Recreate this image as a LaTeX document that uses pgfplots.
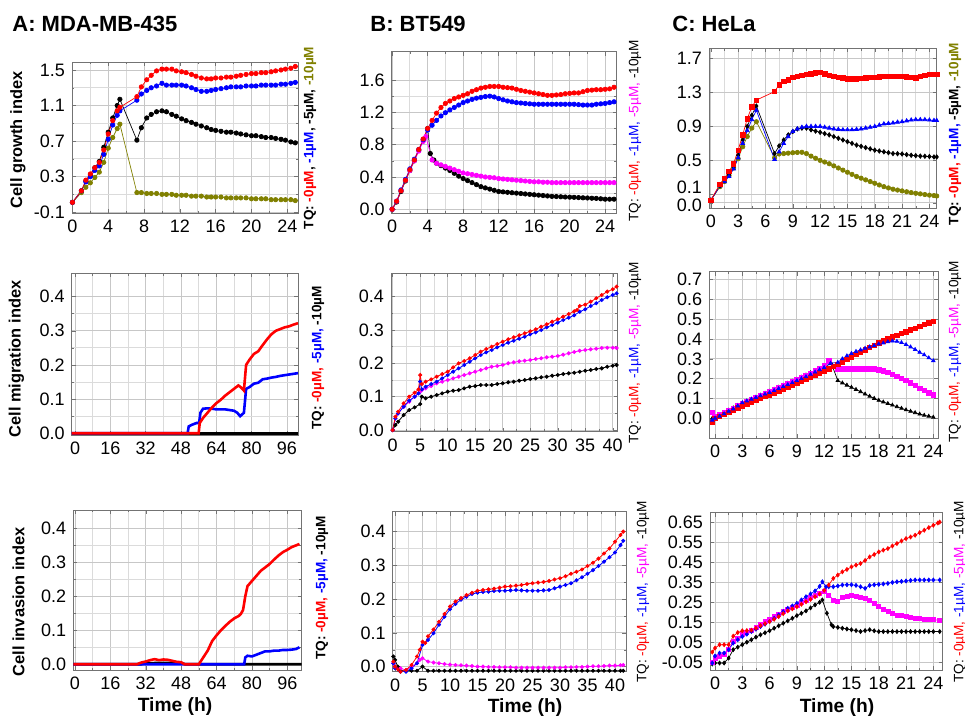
\documentclass[border=0pt]{standalone}
\usepackage{fontspec}
\setmainfont{Liberation Sans}
\usepackage{pgfplots}
\pgfplotsset{compat=1.18}
\definecolor{olv}{RGB}{128,128,0}
\definecolor{mag}{RGB}{255,0,255}
\pgfplotsset{
  panel/.style={
    scale only axis, anchor=south west,
    axis line style={black!55}, tick style={black!55},
    major tick length=2pt, minor tick length=1.2pt,
    tick align=inside,
    grid=both, major grid style={black!22}, minor grid style={black!14},
    minor x tick num=1, minor y tick num=1,
    tick label style={font=\fontsize{9}{10}\selectfont},
    /pgf/number format/assume math mode=true,
    yticklabel style={/pgf/number format/fixed, /pgf/number format/fixed zerofill, /pgf/number format/precision=1},
  },
  ser/.style 2 args={draw=#1, line width=0.35pt, mark=#2, mark size=1.1pt,
    mark options={solid, fill=#1, draw=#1}},
  sm/.style 2 args={draw=#1, line width=0.4pt, mark=#2, mark size=0.8pt,
    mark options={solid, fill=#1, draw=#1}},
  dense/.style={draw=#1, line width=1.3pt, no marks},
}
\newcommand{\rl}[3]{\node[rotate=90, inner sep=0pt, font=#1\fontsize{6.8}{8}\selectfont] at (#2) {#3};}
\begin{document}
\begin{tikzpicture}
\useasboundingbox (0,0) rectangle (482.5pt,-359.5pt);

% ---------- A1 ----------
\begin{axis}[panel, at={(36pt,-106.5pt)}, width=113pt, height=75.5pt,
  xmin=-0.05, xmax=25.2, ymin=-0.11, ymax=1.59,
  xtick={0,4,...,24}, ytick={-0.1,0.3,0.7,1.1,1.5}]
\addplot[ser={olv}{*}] coordinates {(0,0.01)(1,0.12)(1.5,0.18)(2,0.23)(2.5,0.29)(3,0.35)(3.5,0.46)(4,0.62)(4.5,0.74)(5,0.84)(5.3,0.89)
(7.2,0.12)(7.7,0.12)(8.3,0.11)(8.8,0.11)(9.4,0.11)(10,0.10)(10.5,0.10)(11.1,0.10)(11.6,0.09)(12.2,0.09)(12.7,0.09)(13.3,0.08)(13.8,0.08)(14.4,0.08)(15,0.07)(15.5,0.07)(16,0.07)(16.6,0.07)(17.2,0.06)(17.7,0.06)(18.3,0.06)(18.8,0.06)(19.4,0.06)(20,0.05)(20.5,0.05)(21.1,0.05)(21.6,0.05)(22.2,0.04)(22.7,0.04)(23.3,0.04)(23.8,0.04)(24.4,0.04)(24.9,0.03)};
\addplot[ser={black}{*}] coordinates {(0,0.01)(1,0.14)(1.5,0.25)(2,0.32)(2.5,0.40)(3,0.47)(3.5,0.63)(4,0.80)(4.5,0.96)(5,1.10)(5.3,1.17)
(7.2,0.71)(7.7,0.85)(8.3,0.96)(8.8,1.00)(9.4,1.03)(10,1.04)(10.5,1.03)(11.1,1.00)(11.6,0.98)(12.2,0.95)(12.7,0.93)(13.3,0.91)(13.8,0.89)(14.4,0.87)(15,0.85)(15.5,0.83)(16,0.82)(16.6,0.81)(17.2,0.80)(17.7,0.80)(18.3,0.79)(18.8,0.78)(19.4,0.77)(20,0.76)(20.5,0.76)(21.1,0.75)(21.6,0.74)(22.2,0.74)(22.7,0.73)(23.3,0.72)(23.8,0.71)(24.4,0.69)(24.9,0.68)};
\addplot[ser={blue}{*}] coordinates {(0,0.01)(1,0.14)(1.5,0.24)(2,0.30)(2.5,0.37)(3,0.42)(3.5,0.55)(4,0.72)(4.5,0.88)(5,0.99)(5.3,1.04)
(7.2,1.16)(7.7,1.23)(8.3,1.27)(8.8,1.30)(9.4,1.32)(10,1.35)(10.5,1.33)(11.1,1.33)(11.6,1.33)(12.2,1.33)(12.7,1.32)(13.3,1.30)(13.8,1.28)(14.4,1.26)(15,1.26)(15.5,1.27)(16,1.28)(16.6,1.29)(17.2,1.30)(17.7,1.31)(18.3,1.31)(18.8,1.31)(19.4,1.32)(20,1.32)(20.5,1.32)(21.1,1.33)(21.6,1.33)(22.2,1.33)(22.7,1.33)(23.3,1.34)(23.8,1.34)(24.4,1.35)(24.9,1.36)};
\addplot[ser={red}{*}] coordinates {(0,0.01)(1,0.14)(1.5,0.26)(2,0.33)(2.5,0.40)(3,0.46)(3.5,0.60)(4,0.78)(4.5,0.93)(5,1.04)(5.3,1.08)
(7.2,1.20)(7.7,1.31)(8.3,1.39)(8.8,1.44)(9.4,1.49)(10,1.51)(10.5,1.51)(11.1,1.51)(11.6,1.49)(12.2,1.48)(12.7,1.47)(13.3,1.45)(13.8,1.43)(14.4,1.41)(15,1.40)(15.5,1.40)(16,1.41)(16.6,1.41)(17.2,1.42)(17.7,1.42)(18.3,1.43)(18.8,1.44)(19.4,1.45)(20,1.46)(20.5,1.46)(21.1,1.47)(21.6,1.47)(22.2,1.48)(22.7,1.49)(23.3,1.50)(23.8,1.51)(24.4,1.52)(24.9,1.54)};
\end{axis}

% ---------- B1 ----------
\begin{axis}[panel, at={(195.85pt,-106.5pt)}, width=112.5pt, height=80.65pt,
  xmin=-0.05, xmax=25.3, ymin=-0.046, ymax=1.95,
  xtick={0,4,...,24}, ytick={0,0.4,0.8,1.2,1.6}]
\addplot[ser={black}{*}] coordinates {(0,0)(0.5,0.09)(1,0.22)(1.5,0.35)(2,0.48)(2.5,0.60)(3,0.73)(3.5,0.86)(4,1.00)(4.3,0.69)(4.7,0.61)(5,0.57)(5.5,0.54)(6,0.51)(6.5,0.48)(7,0.445)(7.5,0.41)(8,0.38)(8.5,0.355)(9,0.33)(9.5,0.305)(10,0.28)(10.5,0.265)(11,0.25)(11.5,0.235)(12,0.22)(12.5,0.215)(13,0.21)(13.5,0.205)(14,0.20)(14.5,0.195)(15,0.19)(15.5,0.185)(16,0.18)(16.5,0.175)(17,0.17)(17.5,0.165)(18,0.16)(18.5,0.158)(19,0.155)(19.5,0.152)(20,0.15)(20.5,0.148)(21,0.145)(21.5,0.142)(22,0.14)(22.5,0.137)(23,0.135)(23.5,0.13)(24,0.125)(24.5,0.125)(25,0.125)};
\addplot[ser={mag}{*}] coordinates {(0,0)(0.5,0.10)(1,0.23)(1.5,0.36)(2,0.48)(2.5,0.60)(3,0.72)(3.5,0.84)(3.8,0.90)(4.5,0.61)(5,0.57)(5.5,0.55)(6,0.53)(6.5,0.51)(7,0.49)(7.5,0.47)(8,0.45)(8.5,0.44)(9,0.43)(9.5,0.42)(10,0.41)(10.5,0.40)(11,0.395)(11.5,0.39)(12,0.38)(12.5,0.375)(13,0.37)(13.5,0.365)(14,0.36)(14.5,0.355)(15,0.35)(15.5,0.345)(16,0.34)(16.5,0.34)(17,0.335)(17.5,0.335)(18,0.33)(18.5,0.33)(19,0.33)(19.5,0.33)(20,0.33)(20.5,0.33)(21,0.33)(21.5,0.33)(22,0.33)(22.5,0.33)(23,0.33)(23.5,0.33)(24,0.33)(24.5,0.33)(25,0.33)};
\addplot[ser={blue}{*}] coordinates {(0,0)(0.5,0.10)(1,0.24)(1.5,0.37)(2,0.50)(2.5,0.62)(3,0.74)(3.5,0.86)(4,0.98)(4.5,1.04)(5,1.10)(5.5,1.155)(6,1.195)(6.5,1.23)(7,1.26)(7.5,1.29)(8,1.32)(8.5,1.34)(9,1.36)(9.5,1.375)(10,1.385)(10.5,1.395)(11,1.40)(11.5,1.39)(12,1.37)(12.5,1.355)(13,1.34)(13.5,1.33)(14,1.32)(14.5,1.315)(15,1.31)(15.5,1.305)(16,1.30)(16.5,1.30)(17,1.30)(17.5,1.30)(18,1.30)(18.5,1.30)(19,1.30)(19.5,1.30)(20,1.30)(20.5,1.30)(21,1.295)(21.5,1.29)(22,1.29)(22.5,1.29)(23,1.30)(23.5,1.305)(24,1.31)(24.5,1.32)(25,1.33)};
\addplot[ser={red}{*}] coordinates {(0,0)(0.5,0.10)(1,0.23)(1.5,0.36)(2,0.49)(2.5,0.61)(3,0.74)(3.5,0.87)(4,1.00)(4.5,1.10)(5,1.19)(5.5,1.26)(6,1.31)(6.5,1.34)(7,1.37)(7.5,1.39)(8,1.41)(8.5,1.43)(9,1.46)(9.5,1.48)(10,1.50)(10.5,1.51)(11,1.52)(11.5,1.52)(12,1.52)(12.5,1.51)(13,1.505)(13.5,1.50)(14,1.485)(14.5,1.47)(15,1.46)(15.5,1.45)(16,1.44)(16.5,1.43)(17,1.42)(17.5,1.41)(18,1.41)(18.5,1.415)(19,1.42)(19.5,1.43)(20,1.435)(20.5,1.44)(21,1.44)(21.5,1.455)(22,1.47)(22.5,1.475)(23,1.48)(23.5,1.48)(24,1.485)(24.5,1.49)(25,1.51)};
\end{axis}

% ---------- C1 ----------
\begin{axis}[panel, at={(354.5pt,-104.15pt)}, width=113.85pt, height=80pt,
  xmin=-0.2, xmax=24.8, ymin=-0.065, ymax=1.82,
  xtick={0,3,...,24}, ytick={0,0.1,0.5,0.9,1.3,1.7},
  yticklabels={\raisebox{-1.2pt}[\height][\depth]{0.0},\raisebox{3.6pt}[\height][\depth]{0.1},0.5,0.9,1.3,1.7}]
\addplot[ser={olv}{*}] coordinates {(0,0.03)(1,0.19)(1.5,0.25)(2,0.32)(2.5,0.41)(3,0.52)(3.5,0.66)(4,0.78)(4.5,0.88)(5,0.955)(7,0.53)(7.5,0.575)(8,0.58)(8.5,0.585)(9,0.59)(9.5,0.593)(10,0.595)(10.5,0.58)(11,0.55)(11.5,0.525)(12,0.50)(12.5,0.48)(13,0.46)(13.5,0.435)(14,0.41)(14.5,0.385)(15,0.36)(15.5,0.335)(16,0.31)(16.5,0.29)(17,0.27)(17.5,0.25)(18,0.23)(18.5,0.21)(19,0.19)(19.5,0.175)(20,0.16)(20.5,0.15)(21,0.14)(21.5,0.13)(22,0.12)(22.5,0.112)(23,0.105)(23.5,0.097)(24,0.09)(24.5,0.085)(24.8,0.08)};
\addplot[ser={black}{diamond*}] coordinates {(0,0.03)(1,0.2)(1.5,0.26)(2,0.33)(2.5,0.42)(3,0.56)(3.5,0.74)(4,0.90)(4.5,1.03)(5,1.14)(7,0.58)(7.5,0.67)(8,0.74)(8.5,0.80)(9,0.84)(9.5,0.87)(10,0.88)(10.5,0.88)(11,0.86)(11.5,0.845)(12,0.83)(12.5,0.815)(13,0.80)(13.5,0.78)(14,0.76)(14.5,0.74)(15,0.72)(15.5,0.70)(16,0.68)(16.5,0.665)(17,0.65)(17.5,0.635)(18,0.62)(18.5,0.61)(19,0.60)(19.5,0.59)(20,0.58)(20.5,0.578)(21,0.575)(21.5,0.567)(22,0.56)(22.5,0.555)(23,0.55)(23.5,0.548)(24,0.545)(24.5,0.54)(24.8,0.54)};
\addplot[ser={blue}{triangle*}] coordinates {(0,0.03)(1,0.2)(1.5,0.25)(2,0.31)(2.5,0.40)(3,0.53)(3.5,0.70)(4,0.85)(4.5,0.98)(5,1.09)(7,0.51)(7.5,0.60)(8,0.70)(8.5,0.78)(9,0.84)(9.5,0.87)(10,0.89)(10.5,0.90)(11,0.90)(11.5,0.90)(12,0.90)(12.5,0.89)(13,0.88)(13.5,0.87)(14,0.865)(14.5,0.86)(15,0.86)(15.5,0.86)(16,0.865)(16.5,0.87)(17,0.88)(17.5,0.89)(18,0.90)(18.5,0.915)(19,0.93)(19.5,0.935)(20,0.94)(20.5,0.95)(21,0.955)(21.5,0.965)(22,0.975)(22.5,0.98)(23,0.98)(23.5,0.98)(24,0.975)(24.5,0.97)(24.8,0.97)};
\addplot[ser={red}{square*}] coordinates {(0,0.03)(1,0.22)(1.5,0.29)(2,0.37)(2.5,0.46)(3,0.62)(3.5,0.80)(4,0.99)(4.5,1.13)(5,1.21)(7,1.31)(7.5,1.39)(8,1.43)(8.5,1.45)(9,1.48)(9.5,1.49)(10,1.50)(10.5,1.51)(11,1.52)(11.5,1.53)(12,1.535)(12.5,1.52)(13,1.50)(13.5,1.49)(14,1.48)(14.5,1.47)(15,1.46)(15.5,1.46)(16,1.46)(16.5,1.465)(17,1.47)(17.5,1.475)(18,1.48)(18.5,1.485)(19,1.49)(19.5,1.49)(20,1.49)(20.5,1.49)(21,1.49)(21.5,1.485)(22,1.48)(22.5,1.47)(23,1.49)(23.5,1.50)(24,1.51)(24.5,1.51)(24.8,1.51)};
\end{axis}

% ---------- A2 ----------
\begin{axis}[panel, at={(35.85pt,-217.5pt)}, width=113.15pt, height=80.85pt,
  xmin=-1.5, xmax=101, ymin=-0.005, ymax=0.468,
  xtick={0,16,32,48,64,80,96}, ytick={0,0.1,0.2,0.3,0.4}]
\addplot[dense=black] coordinates {(-1.5,0)(101,0)};
\addplot[dense=blue] coordinates {(-1.5,0)(51,0)(51.5,0.02)(53,0.025)(55,0.03)(56.2,0.03)(56.8,0.06)(58,0.072)(60,0.073)(62,0.072)(64,0.07)(66,0.07)(68,0.07)(70,0.068)(72,0.066)(73.5,0.06)(74.8,0.05)(76.5,0.06)(77.5,0.13)(79,0.135)(81,0.145)(83,0.148)(85,0.158)(87,0.16)(89,0.163)(91,0.165)(93,0.168)(95,0.17)(97,0.172)(99,0.174)(101,0.176)};
\addplot[dense=red] coordinates {(-1.5,0)(56,0)(56.5,0.03)(58,0.045)(60,0.06)(62,0.075)(64,0.088)(66,0.098)(68,0.11)(70,0.12)(72,0.13)(74,0.14)(75,0.135)(76.5,0.125)(77.5,0.2)(79,0.215)(81,0.232)(83,0.24)(85,0.258)(87,0.275)(89,0.29)(91,0.3)(93,0.305)(95,0.31)(97,0.313)(99,0.318)(101,0.322)};
\end{axis}

% ---------- B2 ----------
\begin{axis}[panel, at={(195.5pt,-215.85pt)}, width=113.35pt, height=79.2pt,
  xmin=-0.3, xmax=40.9, ymin=-0.005, ymax=0.47,
  xtick={0,5,...,40}, ytick={0,0.1,0.2,0.3,0.4}]
\addplot[sm={black}{*}] coordinates {(0,0.0)(0.5,0.015)(1,0.025)(2,0.045)(3,0.06)(4,0.068)(5,0.078)(5.3,0.10)(6,0.095)(7,0.1)(8,0.105)(9,0.11)(10,0.115)(11,0.118)(12,0.12)(13,0.125)(14,0.13)(15,0.132)(16,0.135)(17,0.135)(18,0.135)(19,0.138)(20,0.14)(21,0.143)(22,0.145)(23,0.148)(24,0.15)(25,0.153)(26,0.155)(27,0.158)(28,0.16)(29,0.163)(30,0.165)(31,0.168)(32,0.17)(33,0.172)(34,0.175)(35,0.178)(36,0.18)(37,0.183)(38,0.185)(39,0.19)(40,0.193)(40.7,0.195)};
\addplot[sm={mag}{*}] coordinates {(0,0.0)(0.5,0.035)(1,0.05)(2,0.07)(3,0.085)(4,0.10)(5,0.115)(5.3,0.12)(6,0.125)(7,0.132)(8,0.14)(9,0.145)(10,0.15)(11,0.155)(12,0.16)(13,0.165)(14,0.17)(15,0.175)(16,0.18)(17,0.185)(18,0.19)(19,0.192)(20,0.195)(21,0.2)(22,0.203)(23,0.206)(24,0.208)(25,0.21)(26,0.213)(27,0.215)(28,0.218)(29,0.22)(30,0.222)(31,0.226)(32,0.23)(33,0.234)(34,0.238)(35,0.24)(36,0.242)(37,0.244)(38,0.246)(39,0.247)(40,0.247)(40.7,0.246)};
\addplot[sm={blue}{*}] coordinates {(0,0.0)(0.5,0.035)(1,0.05)(2,0.07)(3,0.088)(4,0.10)(4.7,0.11)(5,0.145)(5.3,0.122)(6,0.13)(7,0.138)(8,0.145)(9,0.155)(10,0.165)(11,0.175)(12,0.185)(13,0.195)(14,0.205)(15,0.215)(16,0.225)(17,0.233)(18,0.24)(19,0.248)(20,0.255)(21,0.262)(22,0.268)(23,0.274)(24,0.28)(25,0.287)(26,0.293)(27,0.3)(28,0.308)(29,0.315)(30,0.322)(31,0.33)(32,0.337)(33,0.344)(34,0.355)(35,0.362)(36,0.372)(37,0.38)(38,0.39)(39,0.398)(40,0.405)(40.7,0.41)};
\addplot[sm={red}{*}] coordinates {(0,0.0)(0.5,0.04)(1,0.055)(2,0.08)(3,0.10)(4,0.112)(4.7,0.122)(5,0.165)(5.3,0.138)(6,0.145)(7,0.152)(8,0.16)(9,0.168)(10,0.175)(11,0.188)(12,0.20)(13,0.207)(14,0.215)(15,0.225)(16,0.235)(17,0.243)(18,0.25)(19,0.258)(20,0.265)(21,0.272)(22,0.278)(23,0.284)(24,0.29)(25,0.296)(26,0.302)(27,0.31)(28,0.317)(29,0.325)(30,0.332)(31,0.34)(32,0.348)(33,0.356)(33.5,0.36)(34,0.372)(35,0.376)(36,0.385)(37,0.395)(38,0.405)(39,0.415)(40,0.422)(40.7,0.43)};
\end{axis}

% ---------- C2 ----------
\begin{axis}[panel, at={(354.65pt,-219pt)}, width=114.5pt, height=83.15pt,
  xmin=-0.63, xmax=24.55, ymin=-0.1, ymax=0.74,
  xtick={0,3,...,24}, ytick={0,0.1,0.2,0.3,0.4,0.5,0.6,0.7}, minor y tick num=0]
\addplot[ser={black}{triangle*}, mark size=1pt] coordinates {(-0.3,0.0)(0,0.005)(0.5,0.015)(1,0.028)(1.5,0.04)(2,0.052)(2.5,0.064)(3,0.076)(3.5,0.086)(4,0.096)(4.5,0.106)(5,0.116)(5.5,0.126)(6,0.136)(6.5,0.146)(7,0.156)(7.5,0.166)(8,0.176)(8.5,0.186)(9,0.196)(9.5,0.207)(10,0.218)(10.5,0.229)(11,0.24)(11.5,0.25)(12,0.262)(12.8,0.275)(13.5,0.19)(14,0.178)(14.5,0.167)(15,0.156)(15.5,0.145)(16,0.134)(16.5,0.122)(17,0.111)(17.5,0.10)(18,0.09)(18.5,0.082)(19,0.074)(19.5,0.066)(20,0.058)(20.5,0.05)(21,0.042)(21.5,0.035)(22,0.028)(22.5,0.021)(23,0.015)(23.5,0.01)(24,0.005)};
\addplot[ser={mag}{square*}, mark size=1.1pt] coordinates {(-0.3,0.03)(0,0.01)(0.5,0.018)(1,0.03)(1.5,0.04)(2,0.05)(2.5,0.062)(3,0.075)(3.5,0.085)(4,0.095)(4.5,0.105)(5,0.115)(5.5,0.125)(6,0.135)(6.5,0.145)(7,0.155)(7.5,0.165)(8,0.175)(8.5,0.185)(9,0.195)(9.5,0.205)(10,0.215)(10.5,0.227)(11,0.24)(11.5,0.252)(12,0.265)(12.5,0.29)(13.5,0.25)(14,0.25)(14.5,0.25)(15,0.25)(15.5,0.25)(16,0.25)(16.5,0.25)(17,0.25)(17.5,0.25)(18,0.245)(18.5,0.24)(19,0.232)(19.5,0.222)(20,0.212)(20.5,0.2)(21,0.19)(21.5,0.178)(22,0.165)(22.5,0.152)(23,0.14)(23.5,0.128)(24,0.118)};
\addplot[ser={red}{square*}, mark size=1.1pt] coordinates {(-0.3,-0.02)(0,0.0)(0.5,0.01)(1,0.02)(1.5,0.03)(2,0.04)(2.5,0.052)(3,0.062)(3.5,0.072)(4,0.082)(4.5,0.09)(5,0.1)(5.5,0.109)(6,0.118)(6.5,0.127)(7,0.137)(7.5,0.146)(8,0.155)(8.5,0.165)(9,0.175)(9.5,0.185)(10,0.196)(10.5,0.207)(11,0.218)(11.5,0.229)(12,0.24)(12.5,0.25)(13,0.262)(13.5,0.272)(14,0.285)(14.5,0.297)(15,0.31)(15.5,0.322)(16,0.334)(16.5,0.345)(17,0.357)(17.5,0.368)(18,0.38)(18.5,0.39)(19,0.4)(19.5,0.41)(20,0.42)(20.5,0.428)(21,0.437)(21.5,0.446)(22,0.455)(22.5,0.464)(23,0.473)(23.5,0.482)(24,0.49)};
\addplot[ser={blue}{triangle*}, mark size=1pt] coordinates {(-0.3,-0.01)(0,0.0)(0.5,0.01)(1,0.022)(1.5,0.035)(2,0.047)(2.5,0.062)(3,0.078)(3.5,0.087)(4,0.096)(4.5,0.105)(5,0.113)(5.5,0.122)(6,0.13)(6.5,0.14)(7,0.15)(7.5,0.16)(8,0.17)(8.5,0.18)(9,0.19)(9.5,0.2)(10,0.21)(10.5,0.222)(11,0.233)(11.5,0.245)(12,0.256)(12.7,0.278)(13.5,0.282)(14,0.3)(14.5,0.315)(15,0.327)(15.5,0.337)(16,0.345)(16.5,0.353)(17,0.36)(17.5,0.367)(18,0.375)(18.5,0.38)(19,0.386)(19.5,0.39)(20,0.388)(20.5,0.382)(21,0.372)(21.5,0.36)(22,0.347)(22.5,0.333)(23,0.32)(23.5,0.305)(24,0.29)};
\end{axis}

% ---------- A3 ----------
\begin{axis}[panel, at={(36.65pt,-335pt)}, width=114.2pt, height=80pt,
  xmin=-0.75, xmax=102.5, ymin=-0.017, ymax=0.454,
  xtick={0,16,32,48,64,80,96}, ytick={0,0.1,0.2,0.3,0.4}]
\addplot[dense=black] coordinates {(-0.75,0)(30,0)(32,0.003)(40,0.004)(48,0.003)(50,0)(102.5,0)};
\addplot[dense=blue] coordinates {(-0.75,0)(76.5,0)(77,0.02)(78,0.025)(80,0.023)(82,0.028)(84,0.033)(86,0.038)(88,0.038)(90,0.04)(92,0.04)(94,0.042)(96,0.042)(98,0.043)(100,0.045)(101.5,0.05)};
\addplot[dense=red] coordinates {(-0.75,0)(28,0)(30,0.005)(32,0.008)(34,0.012)(36,0.015)(38,0.012)(40,0.014)(42,0.013)(44,0.01)(46,0.007)(48,0.006)(49.5,0.0)(56,0.0)(58,0.02)(60,0.04)(62,0.068)(64,0.085)(66,0.10)(68,0.113)(70,0.125)(72,0.135)(74,0.142)(75,0.148)(76,0.16)(77,0.2)(78,0.23)(80,0.245)(82,0.26)(84,0.275)(86,0.285)(88,0.295)(90,0.308)(92,0.32)(94,0.33)(96,0.337)(98,0.345)(100,0.35)(101.5,0.354)};
\end{axis}

% ---------- B3 ----------
\begin{axis}[panel, at={(196.35pt,-335.85pt)}, width=116.65pt, height=80pt,
  xmin=-0.42, xmax=42, ymin=-0.015, ymax=0.459,
  xtick={0,5,...,40}, ytick={0,0.1,0.2,0.3,0.4}]
\addplot[sm={black}{*}] coordinates {(-0.3,0.03)(0,0.02)(0.5,0.0)(1,-0.012)(2,-0.012)(3,-0.012)(4,-0.012)(5,0.0)(6,-0.012)(7,-0.012)(8,-0.012)(9,-0.012)(10,-0.012)(11,-0.012)(12,-0.012)(13,-0.012)(14,-0.012)(15,-0.012)(16,-0.012)(17,-0.012)(18,-0.012)(19,-0.012)(20,-0.012)(21,-0.012)(22,-0.012)(23,-0.012)(24,-0.012)(25,-0.012)(26,-0.012)(27,-0.012)(28,-0.012)(29,-0.012)(30,-0.012)(31,-0.012)(32,-0.012)(33,-0.012)(34,-0.012)(35,-0.012)(36,-0.012)(37,-0.012)(38,-0.012)(39,-0.012)(40,-0.012)(41,-0.012)(41.5,-0.012)};
\addplot[sm={mag}{*}] coordinates {(-0.3,0.01)(0,0.0)(1,-0.005)(2,-0.01)(3,0.0)(4,0.01)(4.5,0.02)(5,0.025)(6,0.015)(7,0.012)(8,0.01)(9,0.008)(10,0.006)(11,0.005)(12,0.004)(13,0.003)(14,0.002)(15,0.0)(16,0.0)(17,-0.001)(18,-0.001)(19,-0.002)(20,-0.002)(21,-0.002)(22,-0.003)(23,-0.003)(24,-0.003)(25,-0.003)(26,-0.003)(27,-0.003)(28,-0.003)(29,-0.003)(30,-0.003)(31,-0.002)(32,-0.002)(33,-0.001)(34,-0.001)(35,0.0)(36,0.001)(37,0.001)(38,0.002)(39,0.003)(40,0.003)(41,0.004)(41.5,0.005)};
\addplot[sm={blue}{*}] coordinates {(-0.3,0.01)(0,-0.005)(1,-0.015)(2,-0.015)(3,-0.005)(4,0.01)(5,0.064)(6,0.079)(7,0.099)(8,0.124)(9,0.148)(10,0.17)(11,0.186)(12,0.198)(13,0.207)(14,0.215)(15,0.219)(16,0.221)(17,0.222)(18,0.224)(19,0.225)(20,0.225)(21,0.226)(22,0.227)(23,0.226)(24,0.225)(25,0.225)(26,0.225)(27,0.226)(28,0.227)(29,0.232)(30,0.237)(31,0.242)(32,0.247)(33,0.256)(34,0.265)(35,0.275)(36,0.286)(37,0.298)(38,0.311)(39,0.324)(40,0.338)(41,0.36)(41.5,0.373)};
\addplot[sm={red}{*}] coordinates {(-0.3,0.015)(0,0.0)(0.5,-0.008)(1,-0.015)(2,-0.01)(3,0.005)(4,0.03)(4.5,0.05)(5,0.074)(5.5,0.07)(6,0.09)(7,0.11)(8,0.133)(9,0.156)(10,0.178)(11,0.193)(12,0.203)(13,0.212)(14,0.219)(15,0.225)(16,0.227)(17,0.229)(18,0.231)(19,0.234)(20,0.237)(21,0.238)(22,0.24)(23,0.242)(24,0.245)(25,0.247)(26,0.249)(27,0.251)(28,0.254)(29,0.258)(30,0.262)(31,0.268)(32,0.275)(33,0.281)(34,0.288)(35,0.298)(36,0.308)(37,0.32)(38,0.335)(39,0.35)(40,0.37)(41,0.39)(41.5,0.40)};
\end{axis}

% ---------- C3 ----------
\begin{axis}[panel, at={(355pt,-335pt)}, width=116.35pt, height=78.65pt,
  xmin=-0.55, xmax=25.03, ymin=-0.09, ymax=0.70,
  xtick={0,3,...,24}, ytick={-0.05,0.05,0.15,0.25,0.35,0.45,0.55,0.65}, minor y tick num=0,
  yticklabel style={/pgf/number format/precision=2}]
\addplot[ser={black}{diamond*}, mark size=1pt] coordinates {(-0.3,-0.06)(0,-0.055)(0.5,-0.055)(1,-0.055)(1.5,-0.03)(2,0.012)(2.5,0.025)(3,0.037)(3.5,0.05)(4,0.062)(4.5,0.075)(5,0.087)(5.5,0.097)(6,0.107)(6.5,0.12)(7,0.132)(7.5,0.145)(8,0.157)(8.5,0.17)(9,0.183)(9.5,0.195)(10,0.207)(10.5,0.222)(11,0.237)(11.5,0.25)(11.8,0.262)(12.3,0.195)(12.8,0.137)(13,0.128)(13.5,0.124)(14,0.12)(14.5,0.116)(15,0.112)(15.5,0.108)(16,0.103)(16.5,0.108)(17,0.112)(17.5,0.107)(18,0.103)(18.5,0.103)(19,0.103)(19.5,0.103)(20,0.103)(20.5,0.103)(21,0.103)(21.5,0.103)(22,0.103)(22.5,0.103)(23,0.103)(23.5,0.103)(24,0.103)(24.7,0.103)};
\addplot[ser={mag}{square*}, mark size=1pt] coordinates {(-0.3,-0.05)(0,-0.03)(0.5,-0.02)(1,-0.013)(1.5,0.012)(2,0.053)(2.5,0.07)(3,0.087)(3.5,0.098)(4,0.11)(4.5,0.125)(5,0.14)(5.5,0.152)(6,0.165)(6.5,0.178)(7,0.19)(7.5,0.203)(8,0.215)(8.5,0.226)(9,0.237)(9.5,0.25)(10,0.262)(10.5,0.275)(11,0.287)(11.5,0.297)(12,0.303)(12.5,0.287)(13,0.262)(13.5,0.253)(14,0.273)(14.5,0.28)(15,0.283)(15.5,0.28)(16,0.273)(16.5,0.268)(17,0.262)(17.5,0.245)(18,0.228)(18.5,0.215)(19,0.203)(19.5,0.195)(20,0.187)(20.5,0.182)(21,0.178)(21.5,0.174)(22,0.17)(22.5,0.167)(23,0.165)(23.5,0.163)(24,0.162)(24.7,0.16)};
\addplot[ser={blue}{diamond*}, mark size=1pt] coordinates {(-0.3,-0.055)(0,-0.02)(0.5,-0.005)(1,-0.005)(1.5,0.012)(2,0.045)(2.5,0.062)(3,0.078)(3.5,0.09)(4,0.103)(4.5,0.115)(5,0.128)(5.5,0.14)(6,0.153)(6.5,0.17)(7,0.187)(7.5,0.203)(8,0.22)(8.5,0.232)(9,0.245)(9.5,0.262)(10,0.278)(10.5,0.292)(11,0.307)(11.5,0.33)(11.8,0.353)(12.2,0.328)(12.5,0.328)(13,0.328)(13.5,0.332)(14,0.337)(14.5,0.338)(15,0.338)(15.5,0.335)(16,0.328)(16.5,0.32)(17,0.335)(17.5,0.338)(18,0.34)(18.5,0.342)(19,0.345)(19.5,0.35)(20,0.353)(20.5,0.355)(21,0.357)(21.5,0.36)(22,0.362)(22.5,0.362)(23,0.362)(23.5,0.362)(24,0.362)(24.7,0.362)};
\addplot[ser={red}{diamond*}, mark size=1pt] coordinates {(-0.3,0.0)(0,0.02)(0.5,0.037)(1,0.037)(1.5,0.037)(2,0.08)(2.5,0.098)(3,0.107)(3.5,0.108)(4,0.11)(4.5,0.12)(5,0.133)(5.5,0.143)(6,0.153)(6.5,0.165)(7,0.178)(7.5,0.193)(8,0.207)(8.5,0.217)(9,0.228)(9.5,0.24)(10,0.253)(10.5,0.265)(11,0.278)(11.5,0.292)(12,0.31)(12.5,0.337)(13,0.37)(13.5,0.387)(14,0.403)(14.5,0.415)(15,0.428)(15.5,0.437)(16,0.445)(16.5,0.46)(17,0.478)(17.5,0.49)(18,0.503)(18.5,0.512)(19,0.52)(19.5,0.533)(20,0.545)(20.5,0.558)(21,0.57)(21.5,0.578)(22,0.587)(22.5,0.6)(23,0.612)(23.5,0.625)(24,0.637)(24.5,0.648)(24.7,0.653)};
\end{axis}

% ---------- titles and labels ----------
\node[anchor=base west, inner sep=0pt, font=\bfseries\fontsize{11}{13}\selectfont] at (6pt,-15.5pt) {A: MDA-MB-435};
\node[anchor=base west, inner sep=0pt, font=\bfseries\fontsize{11}{13}\selectfont] at (185pt,-15.8pt) {B: BT549};
\node[anchor=base west, inner sep=0pt, font=\bfseries\fontsize{11}{13}\selectfont] at (336pt,-15.8pt) {C: HeLa};

\node[rotate=90, inner sep=0pt, font=\bfseries\fontsize{8.2}{10}\selectfont] at (9pt,-70pt) {Cell growth index};
\node[rotate=90, inner sep=0pt, font=\bfseries\fontsize{8.2}{10}\selectfont] at (8.25pt,-179.5pt) {Cell migration index};
\node[rotate=90, inner sep=0pt, font=\bfseries\fontsize{8.2}{10}\selectfont] at (9.25pt,-301pt) {Cell invasion index};

\node[inner sep=0pt, font=\bfseries\fontsize{9.6}{11}\selectfont] at (87.5pt,-353.5pt) {Time (h)};
\node[inner sep=0pt, font=\bfseries\fontsize{9.6}{11}\selectfont] at (262.5pt,-354pt) {Time (h)};
\node[inner sep=0pt, font=\bfseries\fontsize{9.6}{11}\selectfont] at (418.5pt,-354pt) {Time (h)};

\rl{\bfseries}{155pt,-69pt}{TQ: \textcolor{red}{-0µM}, \textcolor{blue}{-1µM}, -5µM, \textcolor{olv}{-10µM}}
\rl{}{317.5pt,-65.5pt}{TQ: \textcolor{red}{-0µM,} \textcolor{blue}{-1µM,} \textcolor{mag}{-5µM,} -10µM}
\rl{\bfseries}{477.5pt,-67pt}{TQ: \textcolor{red}{-0µM,} \textcolor{blue}{-1µM,} -5µM, \textcolor{olv}{-10µM}}
\rl{\bfseries}{159pt,-179pt}{TQ: \textcolor{red}{-0µM,} \textcolor{blue}{-5µM,} -10µM}
\rl{}{317.5pt,-176.5pt}{TQ: \textcolor{red}{-0µM,} \textcolor{blue}{-1µM,} \textcolor{mag}{-5µM,} -10µM}
\rl{}{477.5pt,-176pt}{TQ: \textcolor{red}{-0µM,} \textcolor{blue}{-1µM,} \textcolor{mag}{-5µM,} -10µM}
\rl{\bfseries}{161pt,-294pt}{TQ: \textcolor{red}{-0µM,} \textcolor{blue}{-5µM,} -10µM}
\rl{}{321.5pt,-296pt}{TQ: \textcolor{red}{-0µM,} \textcolor{blue}{-1µM,} \textcolor{mag}{-5µM,} -10µM}
\rl{}{480pt,-296pt}{TQ: \textcolor{red}{-0µM,} \textcolor{blue}{-1µM,} \textcolor{mag}{-5µM,} -10µM}
\end{tikzpicture}
\end{document}
